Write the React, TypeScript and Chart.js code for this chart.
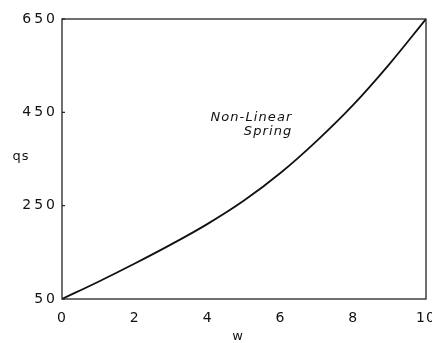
import { useEffect, useRef } from "react";
import { Chart, registerables } from "chart.js";

Chart.register(...registerables);

const wValues = [0, 1, 2, 3, 4, 5, 6, 7, 8, 9, 10];
const qsValues = [50, 87, 126, 167, 211, 261, 320, 389, 466, 554, 650];
const xTickValues = [0, 2, 4, 6, 8, 10];
const yTickValues = [50, 250, 450, 650];
const curveLabel = ["Non-Linear", "Spring"];
const xTitle = "w";
const yTitle = "qs";

const INK = "#111";

const decorPlugin = {
  id: "decor",
  beforeDraw(chart: any) {
    chart.ctx.letterSpacing = "3px";
  },
  afterDraw(chart: any) {
    const ctx = chart.ctx;
    const { left, right, top, bottom } = chart.chartArea;
    const x = chart.scales.x;
    const y = chart.scales.y;
    ctx.save();
    ctx.letterSpacing = "0px";
    // frame
    ctx.strokeStyle = "#222";
    ctx.lineWidth = 1.3;
    ctx.strokeRect(left, top, right - left, bottom - top);
    // inward y ticks
    ctx.lineWidth = 1.2;
    yTickValues.forEach((v) => {
      const py = y.getPixelForValue(v);
      ctx.beginPath();
      ctx.moveTo(left, py);
      ctx.lineTo(left + 3, py);
      ctx.stroke();
    });
    // curve label
    ctx.fillStyle = INK;
    ctx.font = "oblique 13px 'DejaVu Sans'";
    ctx.letterSpacing = "1.1px";
    ctx.textAlign = "right";
    ctx.textBaseline = "middle";
    const lx = x.getPixelForValue(6.33);
    ctx.fillText(curveLabel[0], lx, y.getPixelForValue(438));
    ctx.fillText(curveLabel[1], lx, y.getPixelForValue(408));
    // axis titles
    ctx.font = "13px 'DejaVu Sans'";
    ctx.letterSpacing = "1px";
    ctx.textAlign = "center";
    ctx.fillText(yTitle, left - 41, (top + bottom) / 2 - 2);
    ctx.fillText(xTitle, (left + right) / 2 - 6, bottom + 38);
    ctx.restore();
  },
};

export default function App() {
  const ref = useRef<HTMLCanvasElement>(null);
  useEffect(() => {
    document.body.style.margin = "0";
    const canvas = ref.current!;
    const chart = new Chart(canvas, {
      type: "line",
      data: {
        datasets: [
          {
            data: wValues.map((w, i) => ({ x: w, y: qsValues[i] })),
            borderColor: INK,
            borderWidth: 1.8,
            pointRadius: 0,
            fill: false,
            tension: 0.4,
          },
        ],
      },
      options: {
        animation: false,
        responsive: false,
        devicePixelRatio: 1,
        layout: { padding: { top: 19, right: 6, left: 0, bottom: 0 } },
        plugins: {
          legend: { display: false },
          tooltip: { enabled: false },
        },
        scales: {
          x: {
            type: "linear",
            min: 0,
            max: 10,
            grid: { display: false, drawTicks: false },
            border: { display: false },
            afterBuildTicks: (s: any) => {
              s.ticks = xTickValues.map((v) => ({ value: v }));
            },
            afterFit: (s: any) => {
              s.height = 44;
              s.paddingLeft = 0;
              s.paddingRight = 0;
              if (!s.__ls) {
                s.__ls = true;
                const d = s.draw;
                s.draw = function (a: any) {
                  const c = this.ctx;
                  const prev = c.letterSpacing;
                  c.letterSpacing = "1px";
                  d.call(this, a);
                  c.letterSpacing = prev;
                };
              }
            },
            ticks: {
              color: INK,
              padding: 11,
              maxRotation: 0,
              font: { family: "'DejaVu Sans'", size: 14 },
              callback: (v: any) => String(v),
            },
          },
          y: {
            type: "linear",
            min: 50,
            max: 650,
            grid: { display: false, drawTicks: false },
            border: { display: false },
            afterBuildTicks: (s: any) => {
              s.ticks = yTickValues.map((v) => ({ value: v }));
            },
            afterFit: (s: any) => {
              s.width = 62;
              s.paddingTop = 0;
              s.paddingBottom = 0;
            },
            ticks: {
              color: INK,
              padding: 4,
              font: { family: "'DejaVu Sans'", size: 14 },
              callback: (v: any) => String(v),
            },
          },
        },
      },
      plugins: [decorPlugin],
    } as any);
    return () => chart.destroy();
  }, []);
  return (
    <div style={{ width: 432, height: 343 }}>
      <canvas ref={ref} width={432} height={343} />
    </div>
  );
}
